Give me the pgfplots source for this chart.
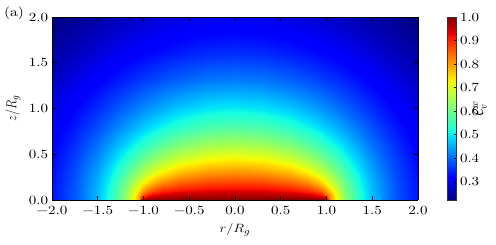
\documentclass[border=0pt]{standalone}
\usepackage{fontspec}
\setmainfont{lmroman10-regular.otf}[FakeStretch=1.2]
\usepackage{graphicx}
\usepackage{pgfplots}
\usepackage{pgfplotstable}
\pgfplotsset{compat=1.18}

\pgfplotstableread[row sep=\\]{
x y c\\
-2 0 0.3333\\ -1.75 0 0.3872\\ -1.5 0 0.4646\\ -1.35 0 0.5311\\ -1.2 0 0.6271\\ -1.1 0 0.7265\\ -1.05 0 0.8028\\ -1 0 1\\ -0.95 0 1\\ -0.9 0 1\\ -0.8 0 1\\ -0.6 0 1\\ -0.3 0 1\\ 0 0 1\\ 0.3 0 1\\ 0.6 0 1\\ 0.8 0 1\\ 0.9 0 1\\ 0.95 0 1\\ 1 0 1\\ 1.05 0 0.8028\\ 1.1 0 0.7265\\ 1.2 0 0.6271\\ 1.35 0 0.5311\\ 1.5 0 0.4646\\ 1.75 0 0.3872\\ 2 0 0.3333\\
-2 0.05 0.3332\\ -1.75 0.05 0.3869\\ -1.5 0.05 0.4640\\ -1.35 0.05 0.5300\\ -1.2 0.05 0.6245\\ -1.1 0.05 0.7188\\ -1.05 0.05 0.7837\\ -1 0.05 0.8583\\ -0.95 0.05 0.9074\\ -0.9 0.05 0.9291\\ -0.8 0.05 0.9474\\ -0.6 0.05 0.9603\\ -0.3 0.05 0.9667\\ 0 0.05 0.9682\\ 0.3 0.05 0.9667\\ 0.6 0.05 0.9603\\ 0.8 0.05 0.9474\\ 0.9 0.05 0.9291\\ 0.95 0.05 0.9074\\ 1 0.05 0.8583\\ 1.05 0.05 0.7837\\ 1.1 0.05 0.7188\\ 1.2 0.05 0.6245\\ 1.35 0.05 0.5300\\ 1.5 0.05 0.4640\\ 1.75 0.05 0.3869\\ 2 0.05 0.3332\\
-2 0.1 0.3327\\ -1.75 0.1 0.3861\\ -1.5 0.1 0.4623\\ -1.35 0.1 0.5269\\ -1.2 0.1 0.6170\\ -1.1 0.1 0.7005\\ -1.05 0.1 0.7504\\ -1 0.1 0.8004\\ -0.95 0.1 0.8406\\ -0.9 0.1 0.8676\\ -0.8 0.1 0.8971\\ -0.6 0.1 0.9212\\ -0.3 0.1 0.9335\\ 0 0.1 0.9366\\ 0.3 0.1 0.9335\\ 0.6 0.1 0.9212\\ 0.8 0.1 0.8971\\ 0.9 0.1 0.8676\\ 0.95 0.1 0.8406\\ 1 0.1 0.8004\\ 1.05 0.1 0.7504\\ 1.1 0.1 0.7005\\ 1.2 0.1 0.6170\\ 1.35 0.1 0.5269\\ 1.5 0.1 0.4623\\ 1.75 0.1 0.3861\\ 2 0.1 0.3327\\
-2 0.2 0.3309\\ -1.75 0.2 0.3830\\ -1.5 0.2 0.4559\\ -1.35 0.2 0.5156\\ -1.2 0.2 0.5931\\ -1.1 0.2 0.6556\\ -1.05 0.2 0.6885\\ -1 0.2 0.7202\\ -0.95 0.2 0.7489\\ -0.9 0.2 0.7731\\ -0.8 0.2 0.8086\\ -0.6 0.2 0.8464\\ -0.3 0.2 0.8687\\ 0 0.2 0.8743\\ 0.3 0.2 0.8687\\ 0.6 0.2 0.8464\\ 0.8 0.2 0.8086\\ 0.9 0.2 0.7731\\ 0.95 0.2 0.7489\\ 1 0.2 0.7202\\ 1.05 0.2 0.6885\\ 1.1 0.2 0.6556\\ 1.2 0.2 0.5931\\ 1.35 0.2 0.5156\\ 1.5 0.2 0.4559\\ 1.75 0.2 0.3830\\ 2 0.2 0.3309\\
-2 0.3 0.3280\\ -1.75 0.3 0.3781\\ -1.5 0.3 0.4462\\ -1.35 0.3 0.4996\\ -1.2 0.3 0.5644\\ -1.1 0.3 0.6126\\ -1.05 0.3 0.6370\\ -1 0.3 0.6606\\ -0.95 0.3 0.6827\\ -0.9 0.3 0.7027\\ -0.8 0.3 0.7359\\ -0.6 0.3 0.7782\\ -0.3 0.3 0.8068\\ 0 0.3 0.8145\\ 0.3 0.3 0.8068\\ 0.6 0.3 0.7782\\ 0.8 0.3 0.7359\\ 0.9 0.3 0.7027\\ 0.95 0.3 0.6827\\ 1 0.3 0.6606\\ 1.05 0.3 0.6370\\ 1.1 0.3 0.6126\\ 1.2 0.3 0.5644\\ 1.35 0.3 0.4996\\ 1.5 0.3 0.4462\\ 1.75 0.3 0.3781\\ 2 0.3 0.3280\\
-2 0.45 0.3218\\ -1.75 0.45 0.3679\\ -1.5 0.45 0.4278\\ -1.35 0.45 0.4717\\ -1.2 0.45 0.5214\\ -1.1 0.45 0.5562\\ -1.05 0.45 0.5735\\ -1 0.45 0.5903\\ -0.95 0.45 0.6065\\ -0.9 0.45 0.6218\\ -0.8 0.45 0.6490\\ -0.6 0.45 0.6894\\ -0.3 0.45 0.7215\\ 0 0.45 0.7308\\ 0.3 0.45 0.7215\\ 0.6 0.45 0.6894\\ 0.8 0.45 0.6490\\ 0.9 0.45 0.6218\\ 0.95 0.45 0.6065\\ 1 0.45 0.5903\\ 1.05 0.45 0.5735\\ 1.1 0.45 0.5562\\ 1.2 0.45 0.5214\\ 1.35 0.45 0.4717\\ 1.5 0.45 0.4278\\ 1.75 0.45 0.3679\\ 2 0.45 0.3218\\
-2 0.6 0.3139\\ -1.75 0.6 0.3554\\ -1.5 0.6 0.4070\\ -1.35 0.6 0.4430\\ -1.2 0.6 0.4818\\ -1.1 0.6 0.5083\\ -1.05 0.6 0.5214\\ -1 0.6 0.5342\\ -0.95 0.6 0.5466\\ -0.9 0.6 0.5585\\ -0.8 0.6 0.5804\\ -0.6 0.6 0.6155\\ -0.3 0.6 0.6465\\ 0 0.6 0.6560\\ 0.3 0.6 0.6465\\ 0.6 0.6 0.6155\\ 0.8 0.6 0.5804\\ 0.9 0.6 0.5585\\ 0.95 0.6 0.5466\\ 1 0.6 0.5342\\ 1.05 0.6 0.5214\\ 1.1 0.6 0.5083\\ 1.2 0.6 0.4818\\ 1.35 0.6 0.4430\\ 1.5 0.6 0.4070\\ 1.75 0.6 0.3554\\ 2 0.6 0.3139\\
-2 0.8 0.3015\\ -1.75 0.8 0.3370\\ -1.5 0.8 0.3788\\ -1.35 0.8 0.4065\\ -1.2 0.8 0.4354\\ -1.1 0.8 0.4547\\ -1.05 0.8 0.4642\\ -1 0.8 0.4735\\ -0.95 0.8 0.4825\\ -0.9 0.8 0.4913\\ -0.8 0.8 0.5078\\ -0.6 0.8 0.5354\\ -0.3 0.8 0.5619\\ 0 0.8 0.5704\\ 0.3 0.8 0.5619\\ 0.6 0.8 0.5354\\ 0.8 0.8 0.5078\\ 0.9 0.8 0.4913\\ 0.95 0.8 0.4825\\ 1 0.8 0.4735\\ 1.05 0.8 0.4642\\ 1.1 0.8 0.4547\\ 1.2 0.8 0.4354\\ 1.35 0.8 0.4065\\ 1.5 0.8 0.3788\\ 1.75 0.8 0.3370\\ 2 0.8 0.3015\\
-2 1 0.2879\\ -1.75 1 0.3179\\ -1.5 1 0.3518\\ -1.35 1 0.3734\\ -1.2 1 0.3955\\ -1.1 1 0.4100\\ -1.05 1 0.4171\\ -1 1 0.4241\\ -0.95 1 0.4310\\ -0.9 1 0.4376\\ -0.8 1 0.4501\\ -0.6 1 0.4715\\ -0.3 1 0.4928\\ 0 1 0.5000\\ 0.3 1 0.4928\\ 0.6 1 0.4715\\ 0.8 1 0.4501\\ 0.9 1 0.4376\\ 0.95 1 0.4310\\ 1 1 0.4241\\ 1.05 1 0.4171\\ 1.1 1 0.4100\\ 1.2 1 0.3955\\ 1.35 1 0.3734\\ 1.5 1 0.3518\\ 1.75 1 0.3179\\ 2 1 0.2879\\
-2 1.3 0.2671\\ -1.75 1.3 0.2902\\ -1.5 1.3 0.3151\\ -1.35 1.3 0.3304\\ -1.2 1.3 0.3457\\ -1.1 1.3 0.3556\\ -1.05 1.3 0.3604\\ -1 1.3 0.3652\\ -0.95 1.3 0.3698\\ -0.9 1.3 0.3743\\ -0.8 1.3 0.3827\\ -0.6 1.3 0.3974\\ -0.3 1.3 0.4123\\ 0 1.3 0.4174\\ 0.3 1.3 0.4123\\ 0.6 1.3 0.3974\\ 0.8 1.3 0.3827\\ 0.9 1.3 0.3743\\ 0.95 1.3 0.3698\\ 1 1.3 0.3652\\ 1.05 1.3 0.3604\\ 1.1 1.3 0.3556\\ 1.2 1.3 0.3457\\ 1.35 1.3 0.3304\\ 1.5 1.3 0.3151\\ 1.75 1.3 0.2902\\ 2 1.3 0.2671\\
-2 1.6 0.2470\\ -1.75 1.6 0.2649\\ -1.5 1.6 0.2834\\ -1.35 1.6 0.2946\\ -1.2 1.6 0.3055\\ -1.1 1.6 0.3125\\ -1.05 1.6 0.3159\\ -1 1.6 0.3192\\ -0.95 1.6 0.3224\\ -0.9 1.6 0.3255\\ -0.8 1.6 0.3314\\ -0.6 1.6 0.3416\\ -0.3 1.6 0.3520\\ 0 1.6 0.3556\\ 0.3 1.6 0.3520\\ 0.6 1.6 0.3416\\ 0.8 1.6 0.3314\\ 0.9 1.6 0.3255\\ 0.95 1.6 0.3224\\ 1 1.6 0.3192\\ 1.05 1.6 0.3159\\ 1.1 1.6 0.3125\\ 1.2 1.6 0.3055\\ 1.35 1.6 0.2946\\ 1.5 1.6 0.2834\\ 1.75 1.6 0.2649\\ 2 1.6 0.2470\\
-2 2 0.2225\\ -1.75 2 0.2353\\ -1.5 2 0.2482\\ -1.35 2 0.2557\\ -1.2 2 0.2629\\ -1.1 2 0.2675\\ -1.05 2 0.2697\\ -1 2 0.2719\\ -0.95 2 0.2740\\ -0.9 2 0.2760\\ -0.8 2 0.2798\\ -0.6 2 0.2863\\ -0.3 2 0.2929\\ 0 2 0.2952\\ 0.3 2 0.2929\\ 0.6 2 0.2863\\ 0.8 2 0.2798\\ 0.9 2 0.2760\\ 0.95 2 0.2740\\ 1 2 0.2719\\ 1.05 2 0.2697\\ 1.1 2 0.2675\\ 1.2 2 0.2629\\ 1.35 2 0.2557\\ 1.5 2 0.2482\\ 1.75 2 0.2353\\ 2 2 0.2225\\
}\fielddata

\begin{document}
\begin{tikzpicture}
\begin{axis}[
  at={(0pt,0pt)}, anchor=south west,
  scale only axis, width=366pt, height=183pt,
  view={0}{90},
  xmin=-2, xmax=2, ymin=0, ymax=2,
  xtick={-2,-1.5,-1,-0.5,0,0.5,1,1.5,2},
  xticklabels={−2.0,−1.5,−1.0,−0.5,0.0,0.5,1.0,1.5,2.0},
  ytick={0,0.5,1,1.5,2},
  yticklabels={0.0,0.5,1.0,1.5,2.0},
  tick label style={font=\fontsize{12.5}{13}\selectfont},
  xticklabel style={inner sep=0pt, yshift=-5.5pt},
  yticklabel style={inner sep=0pt, xshift=-3.7pt},
  tick align=inside, major tick length=4pt,
  tick style={black, line width=0.5pt},
  axis line style={black, line width=0.8pt},
  axis on top,
  every axis x label/.style={at={(axis description cs:0.5,0)}, yshift=-30pt, anchor=center, font=\fontsize{13}{14}\selectfont},
  every axis y label/.style={at={(axis description cs:0,0.5)}, xshift=-39pt, anchor=center, rotate=90, font=\fontsize{13}{14}\selectfont},
  xlabel={\scalebox{1.2}[1]{$r/R_g$}}, ylabel={\scalebox{1}[1.2]{$z/R_g$}},
  colormap={mpljet}{rgb(0)=(0,0,0.5) rgb(110)=(0,0,1) rgb(125)=(0,0,1) rgb(340)=(0,0.86,1) rgb(350)=(0,0.9,0.9677) rgb(375)=(0.0806,1,0.8871) rgb(640)=(0.9355,1,0.0323) rgb(650)=(0.9677,0.963,0) rgb(660)=(1,0.9259,0) rgb(890)=(1,0.0741,0) rgb(910)=(0.9091,0,0) rgb(1000)=(0.5,0,0)},
  point meta min=0.2225, point meta max=1,
  colorbar,
  colorbar style={
    at={(parent axis.north east)}, anchor=north west, xshift=21pt,
    scale only axis, width=9pt, height=183pt,
    ytick={0.3,0.4,0.5,0.6,0.7,0.8,0.9,1.0},
    yticklabels={0.3,0.4,0.5,0.6,0.7,0.8,0.9,1.0},
    yticklabel style={font=\fontsize{12.5}{13}\selectfont, inner sep=0pt, xshift=3.3pt},
    ytick pos=right, tick align=inside, major tick length=3pt,
    axis line style={black!80, line width=0.6pt},
    every axis y label/.style={at={(axis description cs:3.6,0.5)}, anchor=center, rotate=90, font=\fontsize{13}{14}\selectfont},
    ylabel={\scalebox{1}[1.2]{$\mathcal{C}_v^w$}},
  },
]
\addplot3[surf, shader=interp, mesh/cols=27] table[x=x, y=y, z=c] {\fielddata};
\end{axis}
\node[font=\fontsize{13}{14}\selectfont] at (-38pt,187pt) {(a)};
\path (-52pt,-45pt) rectangle (444pt,200pt);
\end{tikzpicture}
\end{document}
